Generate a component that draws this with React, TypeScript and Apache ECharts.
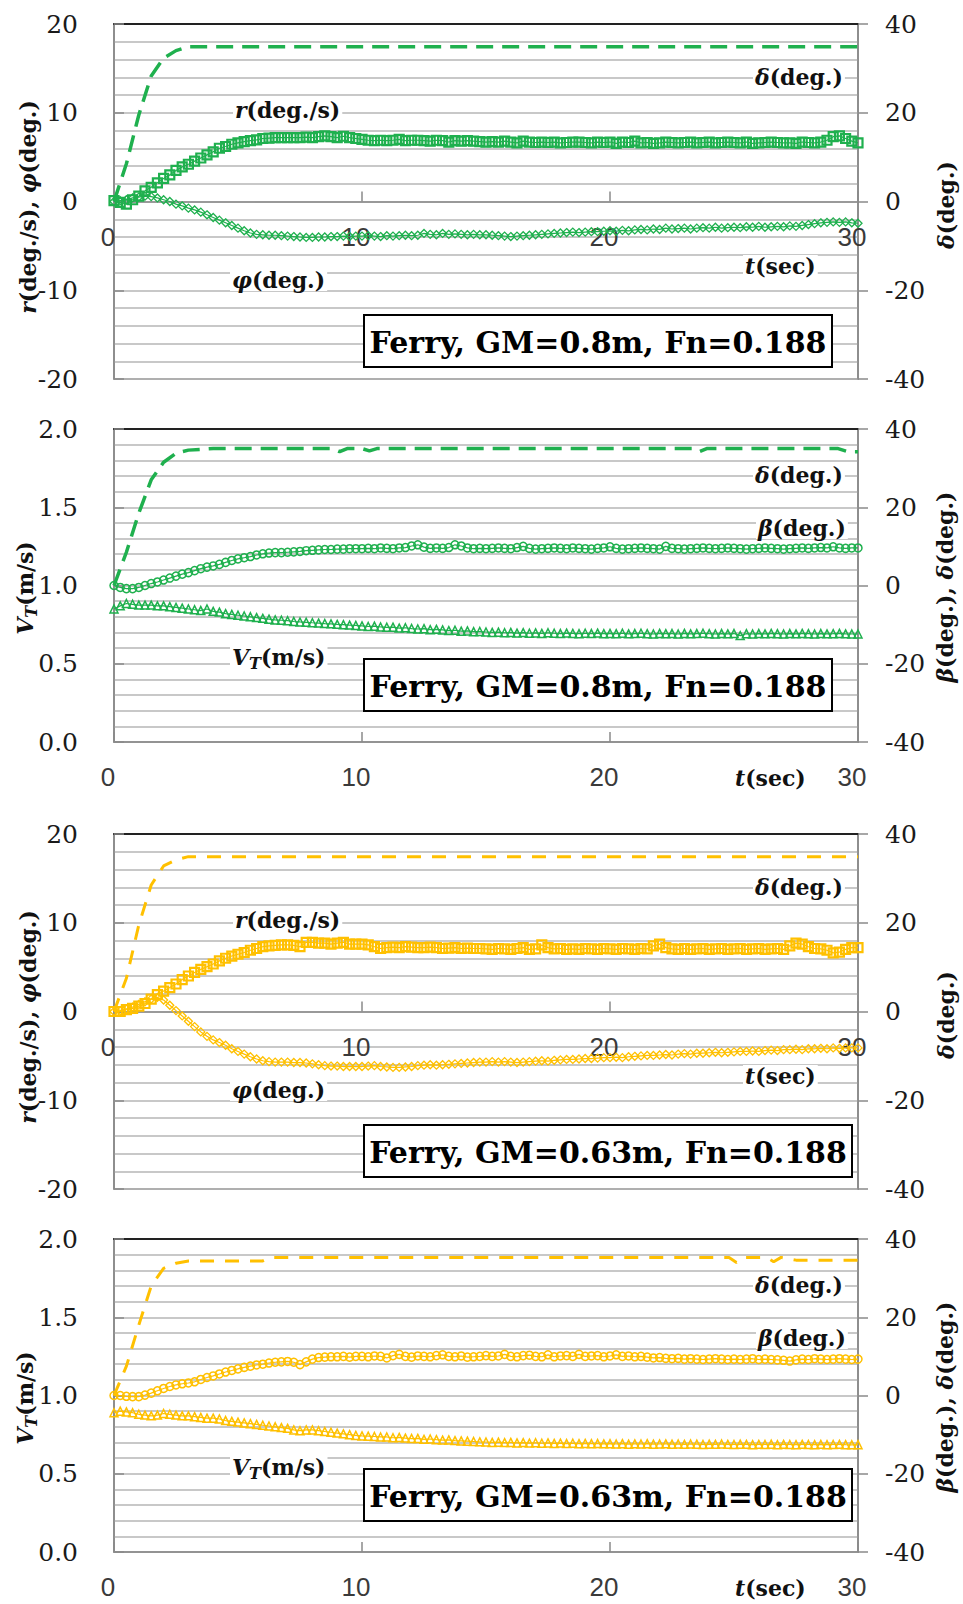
import React, { useEffect, useRef } from "react";
import * as echarts from "echarts";

// Turning test records of a ferry model, sampled every 0.25 s from 0 to 30 s.
const TIME = Array.from({ length: 121 }, (_, i) => i * 0.25);

const X_TICKS = [0, 10, 20, 30];

// GM = 0.8 m : yaw rate r (deg/s)
const r08 = [
  0.1, -0.1, -0.3, 0.2, 0.6, 1.2, 1.6, 2.1, 2.6, 3.0, 3.5, 3.9, 4.2, 4.55, 4.9, 5.25, 5.6, 6.0, 6.2, 6.45,
  6.6, 6.75, 6.85, 6.95, 7.1, 7.15, 7.2, 7.2, 7.2, 7.2, 7.2, 7.25, 7.2, 7.3, 7.4, 7.3, 7.2, 7.35, 7.2, 7.1,
  7.0, 6.9, 6.85, 6.9, 6.85, 6.9, 7.0, 6.85, 6.9, 6.9, 6.85, 6.8, 6.9, 6.85, 6.7, 6.85, 6.8, 6.85, 6.8, 6.75,
  6.7, 6.75, 6.7, 6.8, 6.7, 6.6, 6.8, 6.7, 6.65, 6.7, 6.65, 6.7, 6.6, 6.65, 6.7, 6.7, 6.65, 6.6, 6.7, 6.65,
  6.7, 6.55, 6.7, 6.65, 6.8, 6.6, 6.65, 6.55, 6.6, 6.7, 6.65, 6.6, 6.65, 6.7, 6.6, 6.65, 6.7, 6.6, 6.65, 6.7,
  6.65, 6.6, 6.7, 6.55, 6.6, 6.65, 6.7, 6.65, 6.6, 6.6, 6.55, 6.7, 6.65, 6.6, 6.7, 6.9, 7.3, 7.4, 7.1, 6.8,
  6.6,
];

// GM = 0.8 m : roll angle phi (deg)
const phi08 = [
  0, 0.1, 0.2, 0.4, 0.5, 0.6, 0.55, 0.4, 0.2, 0, -0.3, -0.5, -0.75, -0.95, -1.2, -1.5, -1.8, -2.1, -2.4, -2.7,
  -3.0, -3.3, -3.55, -3.7, -3.75, -3.8, -3.8, -3.85, -3.9, -3.95, -4.0, -4.05, -4.05, -4.0, -4.0, -3.95, -3.95, -3.9, -3.95, -3.9,
  -3.9, -3.85, -3.9, -3.95, -3.85, -3.9, -3.85, -3.8, -3.85, -3.8, -3.6, -3.7, -3.75, -3.6, -3.7, -3.65, -3.7, -3.75, -3.7, -3.75,
  -3.75, -3.8, -3.85, -3.9, -3.95, -3.9, -3.85, -3.8, -3.75, -3.7, -3.65, -3.6, -3.55, -3.5, -3.45, -3.5, -3.45, -3.4, -3.4, -3.35,
  -3.3, -3.35, -3.25, -3.3, -3.2, -3.15, -3.2, -3.1, -3.15, -3.0, -3.1, -3.05, -3.0, -3.1, -3.0, -2.95, -3.0, -2.9, -3.0, -2.95,
  -2.9, -2.95, -2.85, -2.9, -2.8, -2.9, -2.85, -2.8, -2.85, -2.75, -2.8, -2.7, -2.6, -2.5, -2.4, -2.35, -2.3, -2.35, -2.3, -2.4,
  -2.45,
];

// GM = 0.8 m : rudder angle delta (deg), [t, value]
const delta08a = [
  [0, 0], [0.5, 8.5], [1, 19.5], [1.5, 28.3], [2, 32.3], [2.5, 34], [3, 34.9], [30, 34.9],
];

// GM = 0.8 m : total speed V_T (m/s)
const vt08 = [
  0.85, 0.87, 0.885, 0.88, 0.875, 0.875, 0.875, 0.87, 0.87, 0.865, 0.86, 0.855, 0.85, 0.845, 0.84, 0.85, 0.835, 0.83, 0.82, 0.815,
  0.81, 0.805, 0.8, 0.795, 0.79, 0.785, 0.78, 0.778, 0.775, 0.77, 0.767, 0.765, 0.762, 0.76, 0.757, 0.755, 0.752, 0.75, 0.747, 0.745,
  0.742, 0.738, 0.74, 0.735, 0.733, 0.734, 0.728, 0.73, 0.725, 0.722, 0.724, 0.718, 0.72, 0.716, 0.712, 0.714, 0.708, 0.71, 0.705, 0.706,
  0.703, 0.7, 0.702, 0.698, 0.7, 0.696, 0.699, 0.695, 0.697, 0.694, 0.698, 0.695, 0.693, 0.696, 0.694, 0.692, 0.695, 0.693, 0.696, 0.692,
  0.694, 0.692, 0.695, 0.691, 0.693, 0.695, 0.692, 0.69, 0.694, 0.692, 0.693, 0.69, 0.694, 0.691, 0.693, 0.695, 0.692, 0.69, 0.693, 0.691,
  0.693, 0.68, 0.692, 0.69, 0.693, 0.691, 0.694, 0.692, 0.69, 0.693, 0.691, 0.694, 0.692, 0.69, 0.693, 0.691, 0.692, 0.694, 0.691, 0.69,
  0.69,
];

// GM = 0.8 m : drift angle beta (deg)
const beta08 = [
  0, -0.5, -0.8, -0.8, -0.5, 0, 0.5, 0.9, 1.4, 1.9, 2.4, 2.9, 3.3, 3.8, 4.3, 4.7, 5.0, 5.4, 5.9, 6.4,
  6.8, 7.1, 7.4, 7.8, 8.1, 8.3, 8.4, 8.4, 8.5, 8.6, 8.7, 8.9, 9.0, 9.1, 9.2, 9.2, 9.3, 9.3, 9.4, 9.4,
  9.4, 9.5, 9.4, 9.6, 9.5, 9.4, 9.6, 9.7, 10.1, 10.4, 9.8, 9.5, 9.6, 9.5, 9.7, 10.4, 10.1, 9.6, 9.4, 9.5,
  9.4, 9.5, 9.6, 9.5, 9.4, 9.7, 10.0, 9.5, 9.3, 9.4, 9.5, 9.6, 9.5, 9.4, 9.6, 9.5, 9.4, 9.3, 9.5, 9.6,
  9.9, 9.5, 9.3, 9.4, 9.5, 9.6, 9.5, 9.4, 9.3, 10.0, 9.5, 9.4, 9.3, 9.4, 9.5, 9.6, 9.5, 9.4, 9.5, 9.6,
  9.5, 9.4, 9.3, 9.4, 9.5, 9.6, 9.5, 9.4, 9.3, 9.4, 9.5, 9.6, 9.5, 9.6, 9.7, 9.6, 9.9, 9.6, 9.5, 9.6,
  9.6,
];

// GM = 0.8 m : rudder angle delta (deg) of the speed run, [t, value]
const delta08b = [
  [0, 0], [0.5, 8.5], [1, 18.5], [1.5, 27], [2, 31.5], [2.5, 33.8], [3, 34.6], [4, 35],
  [8.8, 35], [9.1, 34.2], [9.4, 35], [10, 35], [10.3, 34.4], [10.6, 35], [23.3, 35], [23.6, 34.2],
  [23.9, 35], [29.2, 35], [29.6, 34.2], [30, 34.2],
];

// GM = 0.63 m : yaw rate r (deg/s)
const r063 = [
  0, 0.0, 0.2, 0.35, 0.6, 0.9, 1.4, 1.9, 2.3, 2.7, 3.1, 3.6, 4.0, 4.4, 4.75, 5.05, 5.35, 5.7, 6.0, 6.25,
  6.45, 6.65, 6.9, 7.1, 7.3, 7.4, 7.45, 7.5, 7.5, 7.45, 7.3, 7.8, 7.8, 7.7, 7.7, 7.6, 7.7, 7.8, 7.6, 7.6,
  7.6, 7.5, 7.3, 7.1, 7.2, 7.25, 7.2, 7.3, 7.25, 7.2, 7.2, 7.25, 7.2, 7.1, 7.15, 7.2, 7.1, 7.15, 7.1, 7.1,
  7.05, 7.0, 7.1, 7.05, 7.0, 7.1, 7.2, 7.0, 7.05, 7.5, 7.2, 7.05, 7.1, 7.0, 7.05, 7.0, 7.1, 7.05, 7.0, 7.1,
  7.05, 7.0, 7.1, 7.05, 7.0, 7.1, 7.05, 7.4, 7.6, 7.2, 7.05, 7.0, 7.1, 7.0, 7.05, 7.1, 7.0, 7.05, 7.1, 7.0,
  7.05, 7.1, 7.0, 7.05, 7.1, 7.0, 7.05, 7.1, 7.0, 7.4, 7.7, 7.6, 7.3, 7.1, 7.05, 6.9, 6.6, 6.7, 7.0, 7.2,
  7.2,
];

// GM = 0.63 m : roll angle phi (deg)
const phi063 = [
  0, 0.1, 0.3, 0.5, 0.8, 1.1, 1.4, 1.6, 1.3, 0.7, 0.1, -0.5, -1.1, -1.7, -2.3, -2.8, -3.2, -3.5, -3.8, -4.2,
  -4.5, -4.8, -5.1, -5.35, -5.55, -5.65, -5.7, -5.7, -5.7, -5.75, -5.75, -5.8, -5.9, -6.0, -6.1, -6.15, -6.15, -6.2, -6.2, -6.2,
  -6.2, -6.15, -6.1, -6.2, -6.25, -6.3, -6.3, -6.25, -6.2, -6.1, -6.05, -6.0, -6.05, -6.0, -5.95, -5.9, -5.85, -5.8, -5.75, -5.7,
  -5.7, -5.65, -5.7, -5.65, -5.7, -5.75, -5.7, -5.65, -5.6, -5.55, -5.6, -5.5, -5.45, -5.4, -5.4, -5.35, -5.3, -5.3, -5.25, -5.2,
  -5.2, -5.15, -5.2, -5.1, -5.05, -5.0, -4.95, -4.95, -4.9, -4.85, -4.9, -4.8, -4.75, -4.8, -4.7, -4.7, -4.65, -4.6, -4.65, -4.6,
  -4.55, -4.5, -4.5, -4.45, -4.5, -4.4, -4.35, -4.4, -4.3, -4.3, -4.25, -4.3, -4.2, -4.2, -4.15, -4.2, -4.1, -4.15, -4.1, -4.1,
  -4.1,
];

// GM = 0.63 m : rudder angle delta (deg), [t, value]
const delta063a = [
  [0, 0], [0.5, 7.5], [1, 19.5], [1.5, 28.5], [2, 32.8], [2.5, 34.2], [3, 34.9], [30, 34.9],
];

// GM = 0.63 m : total speed V_T (m/s)
const vt063 = [
  0.89, 0.9, 0.895, 0.89, 0.88, 0.875, 0.87, 0.875, 0.885, 0.88, 0.875, 0.87, 0.87, 0.865, 0.86, 0.855, 0.855, 0.85, 0.84, 0.835,
  0.83, 0.825, 0.82, 0.815, 0.81, 0.805, 0.8, 0.795, 0.79, 0.78, 0.775, 0.78, 0.78, 0.775, 0.77, 0.765, 0.76, 0.755, 0.75, 0.745,
  0.742, 0.74, 0.738, 0.735, 0.735, 0.73, 0.732, 0.728, 0.725, 0.726, 0.72, 0.722, 0.718, 0.715, 0.716, 0.712, 0.71, 0.708, 0.706, 0.704,
  0.703, 0.7, 0.702, 0.699, 0.7, 0.697, 0.699, 0.696, 0.698, 0.695, 0.697, 0.694, 0.696, 0.693, 0.695, 0.692, 0.694, 0.692, 0.693, 0.691,
  0.692, 0.69, 0.692, 0.689, 0.691, 0.69, 0.692, 0.689, 0.69, 0.691, 0.689, 0.69, 0.688, 0.69, 0.689, 0.687, 0.689, 0.688, 0.69, 0.688,
  0.687, 0.689, 0.688, 0.686, 0.688, 0.687, 0.689, 0.686, 0.688, 0.687, 0.686, 0.688, 0.687, 0.686, 0.688, 0.686, 0.687, 0.688, 0.686, 0.685,
  0.686,
];

// GM = 0.63 m : drift angle beta (deg)
const beta063 = [
  0, 0, -0.2, -0.3, -0.3, 0.1, 0.6, 1.2, 1.8, 2.3, 2.7, 3.0, 3.2, 3.5, 4.1, 4.6, 5.0, 5.5, 6.0, 6.4,
  6.8, 7.2, 7.5, 7.8, 8.0, 8.3, 8.5, 8.6, 8.7, 8.5, 7.9, 8.6, 9.3, 9.7, 9.8, 9.9, 9.9, 10.0, 9.8, 10.0,
  10.0, 9.9, 10.1, 10.0, 9.6, 10.2, 10.5, 10.0, 9.8, 10.1, 10.0, 9.9, 10.2, 10.4, 10.0, 9.9, 10.1, 9.8, 9.9, 10.0,
  10.2, 10.0, 10.1, 10.5, 10.0, 9.9, 10.2, 10.3, 10.0, 9.9, 10.4, 9.9, 10.1, 10.2, 10.0, 10.5, 10.0, 10.1, 10.2, 9.9,
  10.1, 10.4, 10.0, 10.1, 9.9, 10.0, 9.8, 9.6, 9.7, 9.5, 9.4, 9.5, 9.3, 9.4, 9.3, 9.2, 9.3, 9.4, 9.3, 9.2,
  9.3, 9.2, 9.3, 9.4, 9.2, 9.3, 9.2, 9.1, 9.0, 8.8, 9.1, 9.3, 9.2, 9.4, 9.3, 9.2, 9.3, 9.4, 9.3, 9.2,
  9.3,
];

// GM = 0.63 m : rudder angle delta (deg) of the speed run, [t, value]
const delta063b = [
  [0, 0], [0.5, 7.5], [1, 18], [1.5, 28], [2, 32.5], [2.5, 33.8], [3, 34.4], [6, 34.4], [6.3, 35.3],
  [24.8, 35.3], [25.1, 34], [25.4, 35.3], [26.3, 35.3], [26.6, 34.2], [26.9, 35.3], [27.5, 34.6], [30, 34.6],
];

const GREEN = "#1fb04e";
const GOLD = "#ffc000";
const SERIF = "'DejaVu Serif', serif";
const SANS = "'Liberation Sans', Arial, sans-serif";
const GRID_LEFT = 114;
const GRID_WIDTH = 744;

type Panel = {
  kind: "turn" | "speed";
  top: number;
  height: number;
  color: string;
  dash: number[];
  dashWidth: number;
  a: number[];
  b: number[];
  delta: number[][];
  caption: string;
  boxRight: number;
};

const PANELS: Panel[] = [
  { kind: "turn", top: 24, height: 355, color: GREEN, dash: [17, 9], dashWidth: 3.5, a: r08, b: phi08, delta: delta08a, caption: "Ferry, GM=0.8m, Fn=0.188", boxRight: 832 },
  { kind: "speed", top: 429, height: 313, color: GREEN, dash: [17, 9], dashWidth: 3.5, a: vt08, b: beta08, delta: delta08b, caption: "Ferry, GM=0.8m, Fn=0.188", boxRight: 832 },
  { kind: "turn", top: 834, height: 355, color: GOLD, dash: [14, 11], dashWidth: 3, a: r063, b: phi063, delta: delta063a, caption: "Ferry, GM=0.63m, Fn=0.188", boxRight: 852 },
  { kind: "speed", top: 1239, height: 313, color: GOLD, dash: [14, 11], dashWidth: 3, a: vt063, b: beta063, delta: delta063b, caption: "Ferry, GM=0.63m, Fn=0.188", boxRight: 852 },
];

const X_LABEL = { margin: 22, fontFamily: SANS, fontSize: 26, color: "#3a3a3a", padding: [0, 12, 0, 0] };

function richStyles(size: number) {
  const base = { fontFamily: SERIF, fontSize: size, fontWeight: "bold", fill: "#111" };
  return {
    b: base,
    i: { ...base, fontStyle: "italic" },
    s: { ...base, fontStyle: "italic", fontSize: Math.round(size * 0.72), padding: [Math.round(size * 0.55), 0, 0, 0] },
  };
}

function label(x: number, y: number, text: string, size = 22) {
  return {
    type: "text",
    x,
    y,
    z: 100,
    silent: true,
    style: {
      text,
      rich: richStyles(size),
      align: "left",
      verticalAlign: "middle",
      backgroundColor: "#fff",
      padding: [0, 2],
    },
  };
}

function axisTitle(x: number, y: number, text: string, size = 22) {
  return {
    type: "text",
    x,
    y,
    z: 100,
    silent: true,
    rotation: Math.PI / 2,
    style: { text, rich: richStyles(size), align: "center", verticalAlign: "middle" },
  };
}

function markerSeries(xi: number, yi: number, values: number[], color: string, symbol: string, size: number, bw: number) {
  return {
    type: "line",
    xAxisIndex: xi,
    yAxisIndex: yi,
    data: TIME.map((t, i) => [t, values[i]]),
    symbol,
    symbolSize: size,
    showSymbol: true,
    showAllSymbol: true,
    silent: true,
    emphasis: { disabled: true },
    lineStyle: { color, width: 1.2 },
    itemStyle: { color: "rgba(255,255,255,0)", borderColor: color, borderWidth: bw },
    z: 3,
  };
}

function dashSeries(xi: number, yi: number, pairs: number[][], color: string, width: number, dash: number[]) {
  return {
    type: "line",
    xAxisIndex: xi,
    yAxisIndex: yi,
    data: pairs,
    symbol: "none",
    silent: true,
    emphasis: { disabled: true },
    lineStyle: { color, width, type: dash },
    z: 2,
  };
}

function buildOption() {
  const grid: any[] = [];
  const xAxis: any[] = [];
  const yAxis: any[] = [];
  const series: any[] = [];
  const graphic: any[] = [];
  const gridLine = { color: "#b6b6b6", width: 1.5 };
  const frame = { color: "#8a8a8a", width: 1.5 };

  PANELS.forEach((p, g) => {
    const turn = p.kind === "turn";
    grid.push({
      left: GRID_LEFT,
      top: p.top,
      width: GRID_WIDTH,
      height: p.height,
      show: true,
      borderColor: "#7a7a7a",
      borderWidth: 1.5,
      backgroundColor: "transparent",
    });
    xAxis.push({
      gridIndex: g,
      type: "value",
      min: X_TICKS[0],
      max: X_TICKS[X_TICKS.length - 1],
      interval: 10,
      axisLine: { show: true, onZero: turn, onZeroAxisIndex: 2 * g, lineStyle: frame },
      axisTick: { show: true, inside: true, length: 10, lineStyle: frame },
      axisLabel: turn ? { show: false } : X_LABEL,
      splitLine: { show: false },
    });
    yAxis.push({
      gridIndex: g,
      type: "value",
      position: "left",
      min: turn ? -20 : 0,
      max: turn ? 20 : 2,
      interval: turn ? 10 : 0.5,
      axisLine: { show: true, onZero: false, lineStyle: frame },
      axisTick: { show: true, inside: true, length: 10, lineStyle: frame },
      minorTick: { show: false, splitNumber: 5 },
      minorSplitLine: { show: true, lineStyle: gridLine },
      splitLine: { show: true, lineStyle: gridLine },
      axisLabel: {
        margin: 36,
        fontFamily: SERIF,
        fontSize: 25,
        color: "#1a1a1a",
        formatter: (v: number) => (turn ? String(v) : v.toFixed(1)),
      },
    });
    yAxis.push({
      gridIndex: g,
      type: "value",
      position: "right",
      min: -40,
      max: 40,
      interval: 20,
      axisLine: { show: true, onZero: false, lineStyle: frame },
      axisTick: { show: true, inside: false, length: 10, lineStyle: frame },
      splitLine: { show: false },
      axisLabel: { margin: 27, fontFamily: SERIF, fontSize: 25, color: "#1a1a1a" },
    });

    const left = 2 * g;
    const right = 2 * g + 1;
    if (turn) {
      series.push(markerSeries(g, left, p.b, p.color, "diamond", 8, 1.3));
      series.push(markerSeries(g, left, p.a, p.color, "rect", 9, 2.2));
    } else {
      series.push(markerSeries(g, left, p.a, p.color, "triangle", 8, 1.5));
      series.push(markerSeries(g, right, p.b, p.color, "circle", 8, 1.5));
    }
    series.push(dashSeries(g, right, p.delta, p.color, p.dashWidth, p.dash));

    // series labels
    const t = p.top;
    if (turn) {
      graphic.push(label(233, t + 86, "{i|r}{b|(deg./s)}"));
      graphic.push(label(230, t + 256, "{i|φ}{b|(deg.)}"));
      graphic.push(label(753, t + 53, "{i|δ}{b|(deg.)}"));
      graphic.push(label(743, t + 242, "{i|t}{b|(sec)}"));
      graphic.push(axisTitle(28, t + 183, "{i|r}{b|(deg./s), }{i|φ}{b|(deg.)}"));
      graphic.push(axisTitle(946, t + 181, "{i|δ}{b|(deg.)}"));
    } else {
      graphic.push(label(753, t + 46, "{i|δ}{b|(deg.)}"));
      graphic.push(label(756, t + 99, "{i|β}{b|(deg.)}"));
      graphic.push(label(230, t + 228, "{i|V}{s|T}{b|(m/s)}"));
      graphic.push(label(733, t + 349, "{i|t}{b|(sec)}"));
      graphic.push(axisTitle(25, t + 159, "{i|V}{s|T}{b|(m/s)}"));
      graphic.push(axisTitle(945, t + 158, "{i|β}{b|(deg.), }{i|δ}{b|(deg.)}"));
    }

    // caption box
    const boxTop = turn ? t + 291 : t + 230;
    const boxH = 52;
    graphic.push({
      type: "rect",
      z: 100,
      silent: true,
      shape: { x: 364, y: boxTop, width: p.boxRight - 364, height: boxH },
      style: { fill: "#fff", stroke: "#000", lineWidth: 2 },
    });
    graphic.push({
      type: "text",
      z: 101,
      silent: true,
      x: (364 + p.boxRight) / 2,
      y: boxTop + boxH / 2 + 1,
      style: {
        text: p.caption,
        fontFamily: SERIF,
        fontSize: 30,
        fontWeight: "bold",
        fill: "#000",
        align: "center",
        verticalAlign: "middle",
      },
    });
  });

  // dark top frame of every panel
  PANELS.forEach((p, g) => {
    xAxis.push({
      gridIndex: g,
      type: "value",
      position: "top",
      min: 0,
      max: 30,
      axisLine: { show: true, onZero: false, lineStyle: { color: "#222", width: 2 } },
      axisTick: { show: false },
      axisLabel: { show: false },
      splitLine: { show: false },
    });
  });

  // time labels of the roll/yaw panels sit under the zero line: an upper-half grid carries them
  PANELS.forEach((p) => {
    if (p.kind !== "turn") return;
    const gi = grid.length;
    grid.push({ left: GRID_LEFT, top: p.top, width: GRID_WIDTH, height: p.height / 2, show: false });
    xAxis.push({
      gridIndex: gi,
      type: "value",
      position: "bottom",
      min: X_TICKS[0],
      max: X_TICKS[X_TICKS.length - 1],
      interval: 10,
      axisLine: { show: false, onZero: false },
      axisTick: { show: false },
      axisLabel: X_LABEL,
      splitLine: { show: false },
    });
    yAxis.push({ gridIndex: gi, type: "value", min: 0, max: 1, show: false });
  });

  return {
    animation: false,
    backgroundColor: "#fff",
    grid,
    xAxis,
    yAxis,
    series,
    graphic: { elements: graphic },
  };
}

export default function App() {
  const ref = useRef<HTMLDivElement>(null);
  useEffect(() => {
    if (!ref.current) return;
    const chart = echarts.init(ref.current, undefined, { renderer: "svg" });
    chart.setOption(buildOption() as any);
    return () => chart.dispose();
  }, []);
  return (
    <div
      ref={ref}
      style={{ position: "absolute", left: 0, top: 0, width: 963, height: 1604, background: "#fff" }}
    />
  );
}
